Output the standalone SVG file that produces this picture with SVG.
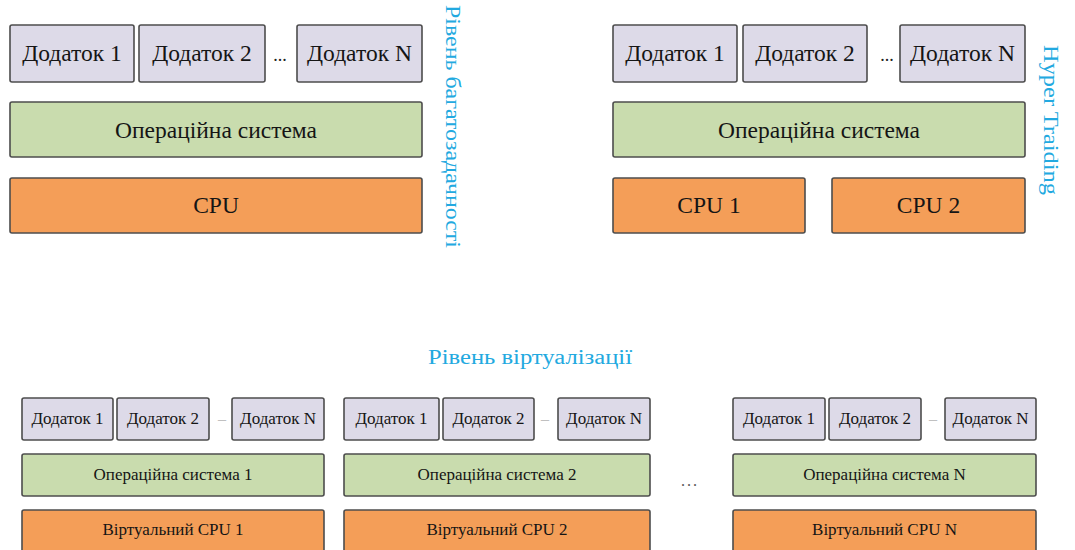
<svg xmlns="http://www.w3.org/2000/svg" width="1075" height="550" viewBox="0 0 1075 550" font-family="'Liberation Serif', 'DejaVu Serif', serif">
<style>
.app{fill:#dddae8;stroke:#4d4d4d;stroke-width:1.6}
.os{fill:#c9dcae;stroke:#4d4d4d;stroke-width:1.6}
.cpu{fill:#f49e58;stroke:#4d4d4d;stroke-width:1.6}
text{font-family:'Liberation Serif','DejaVu Serif',serif}
.t{fill:#151515;text-anchor:middle}
.big{font-size:23.5px}
.sm{font-size:17px}
.lbl{fill:#22a9e0;font-size:20px}
.dots{fill:#222;font-size:18px;text-anchor:middle}
.dash{fill:#c0c0c0;font-size:16px;text-anchor:middle}
</style>
<rect width="1075" height="550" fill="#ffffff"/>

<!-- Top-left: multitasking -->
<g id="tl-app1"><rect class="app" x="10" y="25" width="124" height="57" rx="2"/><text class="t big" x="72" y="61">Додаток 1</text></g>
<g id="tl-app2"><rect class="app" x="139" y="25" width="126" height="57" rx="2"/><text class="t big" x="202" y="61">Додаток 2</text></g>
<text class="dots" x="280" y="61">...</text>
<g id="tl-appN"><rect class="app" x="297" y="25" width="125" height="57" rx="2"/><text class="t big" x="359.5" y="61">Додаток N</text></g>
<g id="tl-os"><rect class="os" x="10" y="102" width="412" height="55" rx="2"/><text class="t big" x="216" y="138">Операційна система</text></g>
<g id="tl-cpu"><rect class="cpu" x="10" y="178" width="412" height="55" rx="2"/><text class="t big" x="216" y="213">CPU</text></g>
<text class="lbl" transform="translate(446,5) rotate(90)" textLength="243" lengthAdjust="spacingAndGlyphs">Рівень багатозадачності</text>

<!-- Top-right: hyper threading -->
<g id="tr-app1"><rect class="app" x="613" y="25" width="124" height="57" rx="2"/><text class="t big" x="675" y="61">Додаток 1</text></g>
<g id="tr-app2"><rect class="app" x="743" y="25" width="124" height="57" rx="2"/><text class="t big" x="805" y="61">Додаток 2</text></g>
<text class="dots" x="887" y="61">...</text>
<g id="tr-appN"><rect class="app" x="900" y="25" width="125" height="57" rx="2"/><text class="t big" x="962.5" y="61">Додаток N</text></g>
<g id="tr-os"><rect class="os" x="613" y="102" width="412" height="55" rx="2"/><text class="t big" x="819" y="138">Операційна система</text></g>
<g id="tr-cpu1"><rect class="cpu" x="613" y="178" width="192" height="55" rx="2"/><text class="t big" x="709" y="213">CPU 1</text></g>
<g id="tr-cpu2"><rect class="cpu" x="832" y="178" width="193" height="55" rx="2"/><text class="t big" x="928.5" y="213">CPU 2</text></g>
<text class="lbl" transform="translate(1044,45) rotate(90)" textLength="150" lengthAdjust="spacingAndGlyphs">Hyper Traiding</text>

<!-- Bottom: virtualization -->
<text class="lbl" x="530" y="364" text-anchor="middle" textLength="204" lengthAdjust="spacingAndGlyphs">Рівень віртуалізації</text>

<g id="v1-app1"><rect class="app" x="22" y="398" width="91" height="42" rx="2"/><text class="t sm" x="67.5" y="424">Додаток 1</text></g>
<g id="v1-app2"><rect class="app" x="117" y="398" width="92" height="42" rx="2"/><text class="t sm" x="163" y="424">Додаток 2</text></g>
<text class="dash" x="222" y="424">–</text>
<g id="v1-appN"><rect class="app" x="232" y="398" width="92" height="42" rx="2"/><text class="t sm" x="278" y="424">Додаток N</text></g>
<g id="v1-os"><rect class="os" x="22" y="454" width="302" height="42" rx="2"/><text class="t sm" x="173" y="480">Операційна система 1</text></g>
<g id="v1-cpu"><rect class="cpu" x="22" y="510" width="302" height="44" rx="2"/><text class="t sm" x="173" y="535">Віртуальний CPU 1</text></g>

<g id="v2-app1"><rect class="app" x="344" y="398" width="95" height="42" rx="2"/><text class="t sm" x="391.5" y="424">Додаток 1</text></g>
<g id="v2-app2"><rect class="app" x="443" y="398" width="91" height="42" rx="2"/><text class="t sm" x="488.5" y="424">Додаток 2</text></g>
<text class="dash" x="545" y="424">–</text>
<g id="v2-appN"><rect class="app" x="558" y="398" width="92" height="42" rx="2"/><text class="t sm" x="604" y="424">Додаток N</text></g>
<g id="v2-os"><rect class="os" x="344" y="454" width="306" height="42" rx="2"/><text class="t sm" x="497" y="480">Операційна система 2</text></g>
<g id="v2-cpu"><rect class="cpu" x="344" y="510" width="306" height="44" rx="2"/><text class="t sm" x="497" y="535">Віртуальний CPU 2</text></g>

<text x="690" y="486" fill="#555" font-size="16" text-anchor="middle" letter-spacing="2">...</text>

<g id="vN-app1"><rect class="app" x="733" y="398" width="92" height="42" rx="2"/><text class="t sm" x="779" y="424">Додаток 1</text></g>
<g id="vN-app2"><rect class="app" x="829" y="398" width="92" height="42" rx="2"/><text class="t sm" x="875" y="424">Додаток 2</text></g>
<text class="dash" x="933" y="424">–</text>
<g id="vN-appN"><rect class="app" x="945" y="398" width="91" height="42" rx="2"/><text class="t sm" x="990.5" y="424">Додаток N</text></g>
<g id="vN-os"><rect class="os" x="733" y="454" width="303" height="42" rx="2"/><text class="t sm" x="884.5" y="480">Операційна система N</text></g>
<g id="vN-cpu"><rect class="cpu" x="733" y="510" width="303" height="44" rx="2"/><text class="t sm" x="884.5" y="535">Віртуальний CPU N</text></g>
</svg>
